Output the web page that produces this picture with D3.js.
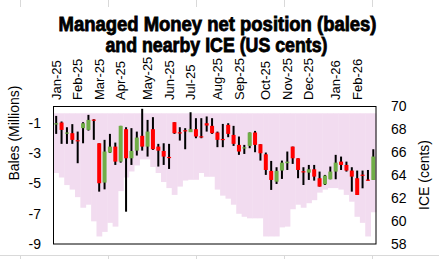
<!DOCTYPE html>
<html><head><meta charset="utf-8">
<script src="https://cdn.jsdelivr.net/npm/d3@7"></script>
<style>body{margin:0;background:#fff;} svg{display:block;font-family:"Liberation Sans",Arial,sans-serif;}</style>
</head><body><svg id="c" width="439" height="259"></svg>
<script>
// Weekly categories (Tuesdays), Jan 7 2025 .. Feb 24 2026
const weeks = d3.timeTuesday.range(new Date(2025,0,7), new Date(2026,1,25));
// ICE nearby (US cents) weekly OHLC
const iceOpen  = [68.43,68.60,67.67,67.67,67.06,68.11,67.96,68.86,66.79,63.36,65.98,66.50,65.19,68.02,65.48,66.15,67.44,66.50,68.02,66.50,66.12,65.60,68.63,67.75,67.93,67.76,68.02,67.40,68.54,68.31,67.73,67.17,68.40,67.52,66.65,66.39,66.56,67.73,66.71,65.83,64.38,63.44,64.41,65.05,66.50,65.48,64.35,64.23,64.52,63.74,63.21,63.65,64.32,65.19,64.90,64.41,63.74,64.05,63.62,63.59];
const iceHigh  = [69.18,68.69,68.19,68.46,67.81,68.63,69.27,68.89,66.79,67.09,67.61,66.85,68.31,68.19,68.11,67.81,69.80,68.83,69.07,66.74,66.79,66.74,68.63,68.19,68.11,69.50,68.98,68.98,69.13,68.98,67.81,68.48,68.54,68.31,67.38,66.65,67.73,67.87,66.71,65.98,65.25,64.70,65.28,66.07,66.50,65.48,64.70,64.90,64.90,64.32,64.03,64.76,65.78,65.63,65.19,64.70,64.41,64.41,64.46,66.27];
const iceLow   = [67.61,66.74,66.74,66.74,65.05,66.79,67.90,67.09,62.57,62.77,65.95,64.90,65.10,60.82,64.90,65.72,66.15,65.63,66.21,64.76,64.90,64.55,67.61,67.03,66.27,67.90,67.23,67.23,67.81,67.61,66.45,66.45,67.32,66.56,65.78,65.86,66.36,66.01,65.28,64.03,62.72,63.24,63.68,64.46,64.99,63.74,63.15,63.59,63.53,63.01,63.15,63.65,63.65,64.46,64.32,62.57,62.28,62.86,63.53,63.59];
const iceClose = [68.54,67.96,67.73,67.09,67.00,68.54,68.83,68.80,63.30,66.07,66.50,65.19,68.31,65.48,66.12,67.29,66.50,67.81,66.27,66.15,65.63,65.54,67.67,67.70,67.87,68.02,67.38,67.35,68.34,67.67,67.09,67.12,67.61,66.74,66.07,66.44,67.73,66.65,65.92,64.46,63.59,64.38,65.10,65.19,65.48,64.46,64.29,64.52,63.88,63.01,63.97,64.32,65.10,64.90,64.41,63.88,62.28,63.99,63.56,65.63];
// Managed Money net position (million bales)
const netBales = [-4.3,-4.6,-5.1,-5.4,-5.9,-6.6,-6.4,-7.5,-8.5,-8.2,-7.6,-7.85,-5.5,-4.6,-4.2,-3.8,-3.4,-3.4,-3.9,-4.3,-4.9,-5.3,-5.75,-5.2,-4.8,-4.75,-4.75,-4.3,-4.55,-4.55,-5.4,-5.8,-6.0,-6.4,-7.0,-7.2,-7.3,-7.3,-7.3,-8.5,-8.5,-8.5,-7.9,-7.85,-6.7,-6.4,-6.6,-6.3,-6.1,-5.6,-5.4,-5.3,-5.3,-5.4,-5.75,-6.2,-7.2,-7.6,-8.5,-6.9];
const balesBase = -0.35;
const leftTicks = [-1,-3,-5,-7,-9];
const rightTicks = [70,68,66,64,62,60,58];
const titleLines = ["Managed Money net position (bales)","and nearby ICE (US cents)"];

const svg = d3.select("#c");
const L = 53.5, R = 376, T = 106.5, B = 244;

// spreadsheet cell borders in background
const gridX = [20.5,108.5,196.5,284.5,372.5];
svg.selectAll(".gx").data(gridX).join("line").attr("x1",d=>d).attr("x2",d=>d).attr("y1",0).attr("y2",7).attr("stroke","#d9d9d9");
svg.append("line").attr("x1",0).attr("x2",439).attr("y1",255.5).attr("y2",255.5).attr("stroke","#d9d9d9");
svg.selectAll(".gx2").data(gridX).join("line").attr("x1",d=>d).attr("x2",d=>d).attr("y1",255).attr("y2",259).attr("stroke","#d9d9d9");

const x = d3.scaleBand().domain(d3.range(weeks.length)).range([L, R]).padding(0);
const yL = d3.scaleLinear().domain([-9, 0.1]).range([B, T]);
const yR = d3.scaleLinear().domain([58, 70]).range([B, T]);

// pink net-position columns
svg.append("g").selectAll("rect").data(netBales).join("rect")
  .attr("x", (d,i)=>x(i)).attr("width", x.bandwidth()+0.4)
  .attr("y", yL(balesBase)).attr("height", d=>yL(d)-yL(balesBase))
  .attr("fill","#F2DCF0");

// wicks
const cx = i => x(i) + x.bandwidth()/2;
svg.append("g").selectAll("rect").data(weeks).join("rect")
  .attr("x",(d,i)=>cx(i)-1).attr("width",2)
  .attr("y",(d,i)=>yR(iceHigh[i])).attr("height",(d,i)=>Math.max(1,yR(iceLow[i])-yR(iceHigh[i])))
  .attr("fill","#000");
// bodies
svg.append("g").selectAll("rect").data(weeks).join("rect")
  .attr("x",(d,i)=>cx(i)-2).attr("width",4)
  .attr("y",(d,i)=>yR(Math.max(iceOpen[i],iceClose[i])))
  .attr("height",(d,i)=>Math.max(1.2,Math.abs(yR(iceOpen[i])-yR(iceClose[i]))))
  .attr("fill",(d,i)=>iceClose[i]>=iceOpen[i]?"#70AD47":"#FF0000");

// frame
svg.append("rect").attr("x",L).attr("y",T).attr("width",R-L).attr("height",B-T)
  .attr("fill","none").attr("stroke","#000").attr("stroke-width",1);

// left axis labels
svg.append("g").selectAll("text").data(leftTicks).join("text")
  .attr("x",41).attr("y",d=>yL(d)).attr("dy","0.35em").attr("text-anchor","end")
  .attr("font-size",14).text(d=>d);
// right axis labels
svg.append("g").selectAll("text").data(rightTicks).join("text")
  .attr("x",391).attr("y",d=>yR(d)).attr("dy","0.35em").attr("text-anchor","start")
  .attr("font-size",14).text(d=>d);

// top month labels (first week of each month)
const fmt = d3.timeFormat("%b-%y");
const monthIdx = weeks.map((d,i)=>i).filter(i=>weeks[i].getDate()<=7);
svg.append("g").selectAll("text").data(monthIdx).join("text")
  .attr("transform",i=>`translate(${cx(i)},100) rotate(-90)`)
  .attr("dy","0.35em").attr("text-anchor","start").attr("font-size",13)
  .text(i=>fmt(weeks[i]));

// axis titles
svg.append("text").attr("transform","translate(18.5,180.5) rotate(-90)")
  .attr("text-anchor","start").attr("font-size",14).text("Bales (Millions)");
svg.append("text").attr("transform","translate(428.5,175) rotate(-90)")
  .attr("text-anchor","middle").attr("font-size",14).text("ICE (cents)");

// title
svg.append("text").attr("x",217.5).attr("y",31).attr("text-anchor","middle")
  .attr("font-size",19.5).attr("font-weight","bold").attr("stroke","#000").attr("stroke-width",0.8)
  .attr("textLength",318).attr("lengthAdjust","spacingAndGlyphs").text(titleLines[0]);
svg.append("text").attr("x",216.5).attr("y",52).attr("text-anchor","middle")
  .attr("font-size",19.5).attr("font-weight","bold").attr("stroke","#000").attr("stroke-width",0.8)
  .attr("textLength",222).attr("lengthAdjust","spacingAndGlyphs").text(titleLines[1]);
</script>
</body></html>
